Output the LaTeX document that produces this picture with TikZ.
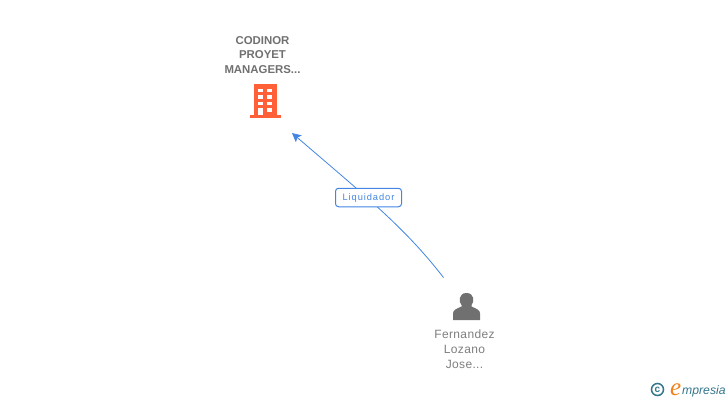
\documentclass[tikz,border=0pt]{standalone}
\usepackage{fontspec}
\setmainfont{Liberation Sans}
\newfontfamily\logoserif{Liberation Serif}
\usetikzlibrary{arrows.meta}
\definecolor{linkblue}{RGB}{66,133,226}
\definecolor{buildred}{RGB}{255,96,56}
\definecolor{persongray}{RGB}{112,112,112}
\definecolor{logoteal}{RGB}{52,118,140}
\definecolor{logoorange}{RGB}{240,130,30}
\tikzset{
  company/.style={align=center,text=persongray,font=\fontsize{11.4}{14.6}\selectfont\bfseries},
  person/.style={align=center,text=persongray!90,font=\fontsize{12}{14.8}\selectfont\addfontfeature{LetterSpace=3}},
  relation/.style={draw=linkblue,fill=white,rounded corners=3pt,line width=1pt,text=linkblue,minimum width=66pt,minimum height=18.5pt,inner sep=0pt,text height=7pt,text depth=0.5pt,font=\fontsize{9.3}{11}\selectfont\addfontfeature{LetterSpace=10}},
  link/.style={draw=linkblue,line width=0.8pt}
}
\begin{document}
\begin{tikzpicture}[x=1pt,y=-1pt]
\useasboundingbox (0,0) rectangle (728,400);

% company
\node[company] (codinor) at (262.5,55) {CODINOR\\PROYET\\MANAGERS...};

\begin{scope}
  \fill[buildred] (254,84) rectangle (277,115);
  \fill[buildred] (249.5,115) rectangle (281,118);
  \foreach \y in {88.5,95,101.5}
   {
    \foreach \x in {258.3,267.3}
      \fill[white] (\x,\y) rectangle +(4.7,3.9);
   }
  \fill[white] (258.3,108) rectangle (263,115);
  \fill[white] (267.3,108) rectangle (272,112);
\end{scope}

% person
\begin{scope}
  \fill[persongray] (453,320) -- (453,313.5) .. controls (453,310) and (456,309) .. (461.5,306.5)
    -- (461.5,305) .. controls (458.5,302) and (458.5,293) .. (466.5,293)
    .. controls (474.5,293) and (474.5,302) .. (471.5,305) -- (471.5,306.5)
    .. controls (477,309) and (480,310) .. (480,313.5) -- (480,320) -- cycle;
\end{scope}
\node[person] (fernandez) at (464.5,349) {Fernandez\\Lozano\\Jose...};

% connector
\coordinate (from) at (443.5,277.5);
\coordinate (to) at (292,133);
\draw[link,-{Stealth[length=9pt,width=9pt,inset=2pt]}] (from) .. controls (405,228) and (370,200) .. (to);
\node[relation] (liquidador) at (368.5,197.5) {Liquidador};

% logo
\node[circle,draw=logoteal,line width=1.5pt,text=logoteal,inner sep=0pt,minimum size=12pt,font=\fontsize{10}{10}\selectfont\bfseries] (copyr) at (657.5,389.5) {c};
\node[anchor=base west,inner sep=0pt,text=logoorange,font=\logoserif\fontsize{25}{25}\selectfont\itshape] (elogo) at (670,395) {e};
\node[anchor=base west,inner sep=0pt,text=logoteal,font=\fontsize{12.2}{14}\selectfont\itshape] (mpresia) at (682,394) {mpresia};

\end{tikzpicture}
\end{document}
